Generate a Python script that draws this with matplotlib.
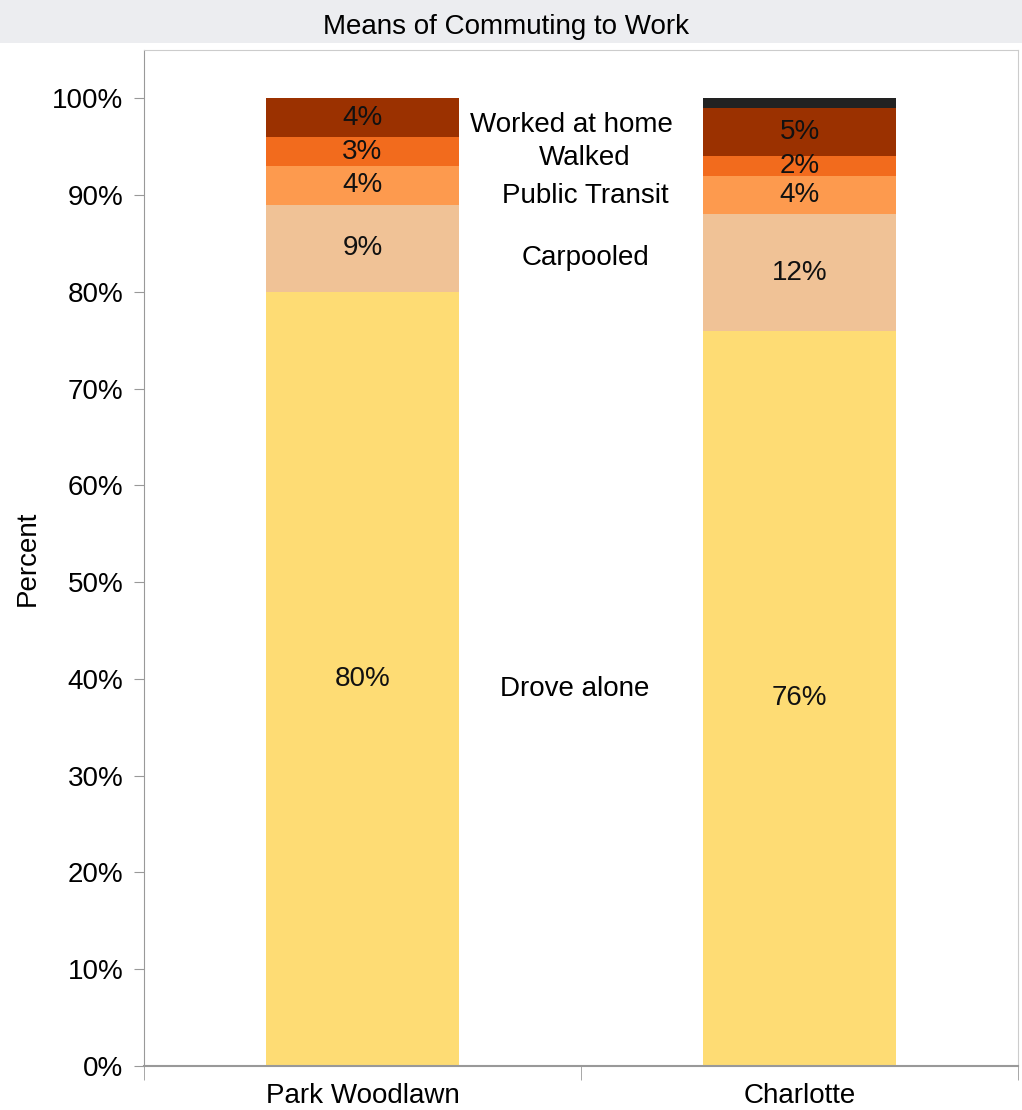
import matplotlib.pyplot as plt
import numpy as np
from matplotlib.patches import Rectangle

plt.rcParams['font.family'] = ['Liberation Sans', 'DejaVu Sans']

places = ['Park Woodlawn', 'Charlotte']
modes = ['Drove alone', 'Carpooled', 'Public Transit', 'Walked', 'Worked at home', 'Other']
park = [80, 9, 4, 3, 4, 0]
charlotte = [76, 12, 4, 2, 5, 1]
colors = ['#FEDC74', '#F0C296', '#FD9A4E', '#F26B1D', '#9B3100', '#222222']
# where the mode names sit between the bars (y in percent)
mode_label_y = [39, 83.5, 89.9, 93.8, 97.3]
mode_label_x = [0.986, 1.011, 1.009, 1.009, 0.977]

fs = 20

fig = plt.figure(figsize=(10.22, 11.1), dpi=100)
fig.patches.append(Rectangle((0, 1 - 43 / 1110), 1, 43 / 1110, transform=fig.transFigure,
                             facecolor='#ECEDF0', edgecolor='none', zorder=0))
fig.text(0.495, 1 - 27 / 1110, 'Means of Commuting to Work', ha='center', va='center', fontsize=fs)

ax = fig.add_axes([144 / 1022, 44 / 1110, 874 / 1022, 1016 / 1110])

x = np.array([0.5, 1.5])
data = np.array([park, charlotte])
bottom = np.zeros(2)
for i, m in enumerate(modes):
    vals = data[:, i]
    ax.bar(x, vals, width=0.44, bottom=bottom, color=colors[i], label=m)
    for j in range(2):
        if vals[j] >= 2:
            ax.text(x[j], bottom[j] + vals[j] / 2, '%d%%' % vals[j],
                    ha='center', va='center', fontsize=fs, color='#111111')
    bottom += vals

for i in range(5):
    ax.text(mode_label_x[i], mode_label_y[i], modes[i], ha='center', va='center', fontsize=fs)

ax.set_xlim(0, 2)
ax.set_ylim(0, 105)
ax.set_yticks(np.arange(0, 101, 10))
ax.set_yticklabels(['%d%%' % v for v in range(0, 101, 10)], fontsize=fs)
ax.set_xticks(x)
ax.set_xticklabels(places, fontsize=fs)
ax.set_xticks([0, 1, 2], minor=True)
ax.tick_params(axis='x', which='major', length=0, pad=12)
ax.tick_params(axis='x', which='minor', length=10, color='#999999', direction='out')
ax.tick_params(axis='y', length=7, color='#999999', pad=8)
ax.set_ylabel('Percent', fontsize=fs, labelpad=8)

ax.spines['left'].set_color('#999999')
ax.spines['bottom'].set_color('#999999')
ax.spines['bottom'].set_linewidth(1.5)
ax.spines['top'].set_color('#CCCCCC')
ax.spines['right'].set_color('#CCCCCC')

plt.savefig('out.png', dpi=100)
